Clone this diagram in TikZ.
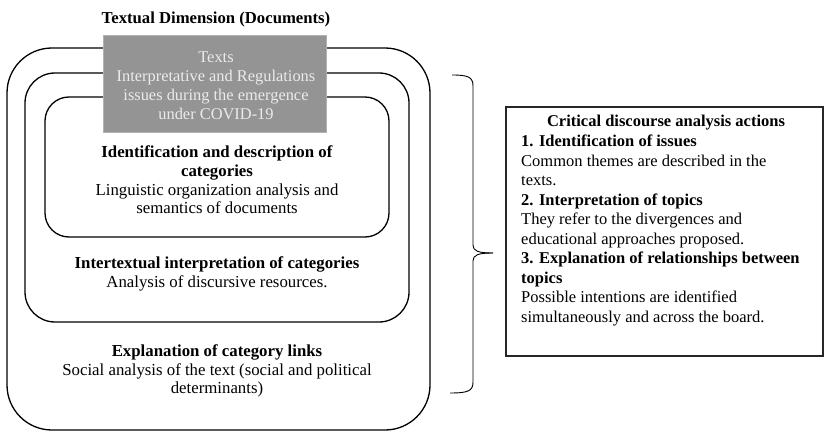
\documentclass[tikz,border=0pt]{standalone}
\usepackage{fontspec}
\setmainfont{Liberation Serif}
\begin{document}
\begin{tikzpicture}[x=1pt,y=-1pt,
  ring/.style={draw=black,line width=1.3pt},
  greybox/.style={draw=black!30,line width=0.8pt,fill=black!42},
  lbl/.style={inner sep=0pt,align=center,font=\fontsize{16.8}{18.7}\selectfont},
  greytxt/.style={inner sep=0pt,align=center,text=black!8,font=\fontsize{16.4}{19}\selectfont},
  actframe/.style={draw=black!85,line width=1.6pt,inner sep=0pt},
  acttxt/.style={inner sep=0pt,align=left,font=\fontsize{16.5}{19.5}\selectfont}]
\useasboundingbox (0,0) rectangle (825,433);
% nested rounded frames
\draw[ring,rounded corners=45pt] (7,48) rectangle (430,430);
\draw[ring,rounded corners=30pt] (25,73) rectangle (409,322);
\draw[ring,rounded corners=24pt] (45,97) rectangle (389,237);
% title
\node[lbl,font=\fontsize{16.7}{18.7}\selectfont\bfseries] (title) at (216,19) {Textual Dimension (Documents)};
% grey box
\node[greybox,minimum width=223pt,minimum height=97pt,inner sep=0pt] (grey) at (214.5,83.5) {};
\node[greytxt] (greyt) at (216,86) {Texts\\Interpretative and Regulations\\issues during the emergence\\under COVID-19};
% labels
\node[lbl] (idc) at (217,180) {\textbf{Identification and description of}\\\textbf{categories}\\Linguistic organization analysis and\\semantics of documents};
\node[lbl] (inter) at (217,274) {\textbf{Intertextual interpretation of categories}\\Analysis of discursive resources.};
\node[lbl] (expl) at (217,371) {\textbf{Explanation of category links}\\Social analysis of the text (social and political\\determinants)};
% brace
\coordinate (bt) at (452,75);
\coordinate (bb) at (450,393);
\coordinate (tip) at (493,253);
\draw[line width=0.9pt] (bt) .. controls (468,75) and (473,77) .. (473,86) -- (473,245) .. controls (473,251) and (478,253) .. (tip);
\draw[line width=0.9pt] (tip) .. controls (478,253) and (473,255) .. (473,261) -- (473,382) .. controls (473,391) and (468,393) .. (bb);
% action box
\node[actframe,minimum width=317pt,minimum height=249pt,anchor=north west] (actbox) at (505,106) {};
\node[acttxt,font=\fontsize{16.5}{19.5}\selectfont\bfseries] (acttitle) at (666,123) {Critical discourse analysis actions};
\node[acttxt,anchor=north west] (actbody) at (521,135) {\textbf{1. Identification of issues}\\Common themes are described in the\\texts.\\\textbf{2. Interpretation of topics}\\They refer to the divergences and\\educational approaches proposed.\\\textbf{3. Explanation of relationships between}\\\textbf{topics}\\Possible intentions are identified\\simultaneously and across the board.};
\end{tikzpicture}
\end{document}
